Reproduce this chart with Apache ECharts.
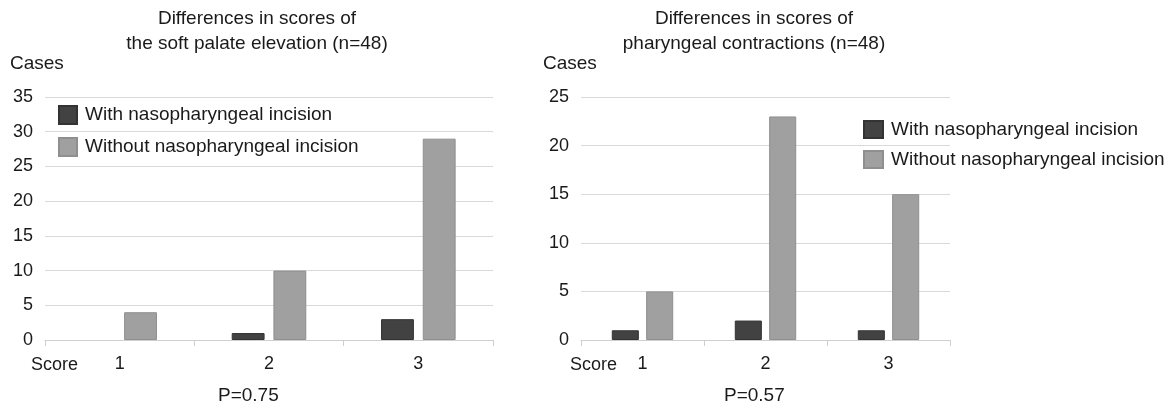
<!DOCTYPE html>
<html><head><meta charset="utf-8">
<script src="https://cdn.jsdelivr.net/npm/echarts@6/dist/echarts.min.js"></script>
<style>html,body{margin:0;padding:0;background:#fff}#c{width:1175px;height:407px}</style>
</head><body><div id="c"></div>
<script>
const categories = ['1', '2', '3'];
const seriesNames = ['With nasopharyngeal incision', 'Without nasopharyngeal incision'];
const palateWith = [0, 1, 3];
const palateWithout = [4, 10, 29];
const pharynxWith = [1, 2, 1];
const pharynxWithout = [5, 23, 15];
const titles = ['Differences in scores of\nthe soft palate elevation (n=48)', 'Differences in scores of\npharyngeal contractions (n=48)'];
const pValues = ['P=0.75', 'P=0.57'];

const FONT = 'Liberation Sans, Arial, sans-serif';
const DARK = '#424242', LIGHT = '#a0a0a0';
const chart = echarts.init(document.getElementById('c'));
const txt = {fontFamily: FONT, fontSize: 18, color: '#1a1a1a'};
const legTxt = {fontFamily: FONT, fontSize: 19, color: '#1a1a1a'};

function xAx(i) {
  return {type: 'category', gridIndex: i, data: categories,
    axisLine: {lineStyle: {color: '#cfcfcf'}},
    axisTick: {show: true, length: 6, lineStyle: {color: '#cfcfcf'}},
    axisLabel: Object.assign({margin: 15}, txt)};
}
function yAx(i, max) {
  return {type: 'value', gridIndex: i, min: 0, max: max, interval: 5,
    axisLine: {show: false}, axisTick: {show: false},
    splitLine: {lineStyle: {color: '#d9d9d9'}},
    axisLabel: Object.assign({margin: 12}, txt)};
}
function bar(name, data, idx, color) {
  return {type: 'bar', name: name, xAxisIndex: idx, yAxisIndex: idx,
    data: data.map(v => v === 0 ? {value: v, itemStyle: {borderWidth: 0, opacity: 0}} : v),
    barWidth: '22%', barGap: '27%',
    itemStyle: {color: color, borderColor: color === DARK ? '#333' : '#8f8f8f', borderWidth: 1}};
}
const titleStyle = {fontFamily: FONT, fontSize: 19, fontWeight: 'normal', color: '#1a1a1a', lineHeight: 25};
chart.setOption({
  animation: false,
  textStyle: {fontFamily: FONT},
  color: [DARK, LIGHT],
  title: [
    {text: titles[0], left: 252, top: 1, textAlign: 'center', textStyle: titleStyle},
    {text: titles[1], left: 749, top: 1, textAlign: 'center', textStyle: titleStyle}
  ],
  legend: [
    {data: seriesNames, orient: 'vertical', left: 58, top: 105, padding: 0, itemWidth: 18, itemHeight: 18, itemGap: 12,
      icon: 'rect', textStyle: Object.assign({padding: [0, 0, 0, 3]}, legTxt)},
    {data: seriesNames, orient: 'vertical', left: 863, top: 120, padding: 0, itemWidth: 19, itemHeight: 17, itemGap: 11,
      icon: 'rect', textStyle: Object.assign({padding: [0, 0, 0, 3]}, legTxt)}
  ],
  grid: [
    {left: 45, width: 448, top: 97, height: 243},
    {left: 581, width: 369, top: 97, height: 243}
  ],
  xAxis: [xAx(0), xAx(1)],
  yAxis: [yAx(0, 35), yAx(1, 25)],
  series: [
    bar(seriesNames[0], palateWith, 0, DARK),
    bar(seriesNames[1], palateWithout, 0, LIGHT),
    bar(seriesNames[0], pharynxWith, 1, DARK),
    bar(seriesNames[1], pharynxWithout, 1, LIGHT)
  ],
  graphic: [
    {type: 'text', left: 10, top: 54, style: {text: 'Cases', fill: '#1a1a1a', font: '19px ' + FONT}},
    {type: 'text', left: 543, top: 54, style: {text: 'Cases', fill: '#1a1a1a', font: '19px ' + FONT}},
    {type: 'text', left: 31, top: 356, style: {text: 'Score', fill: '#1a1a1a', font: '18px ' + FONT}},
    {type: 'text', left: 570, top: 356, style: {text: 'Score', fill: '#1a1a1a', font: '18px ' + FONT}},
    {type: 'text', left: 218, top: 386, style: {text: pValues[0], fill: '#1a1a1a', font: '19px ' + FONT}},
    {type: 'text', left: 724, top: 386, style: {text: pValues[1], fill: '#1a1a1a', font: '19px ' + FONT}}
  ]
});
</script></body></html>
